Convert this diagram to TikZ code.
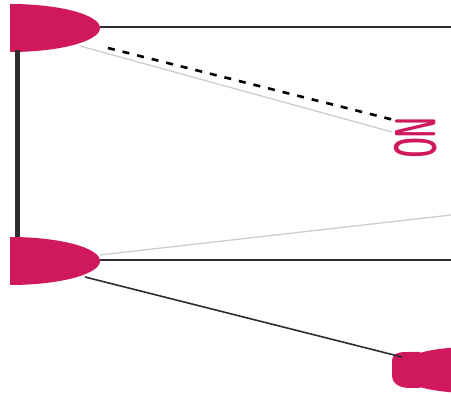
\documentclass[tikz,border=0pt]{standalone}
\usetikzlibrary{calc}
\definecolor{blobpink}{RGB}{208,24,92}
\definecolor{darkline}{RGB}{45,45,45}
\definecolor{lightline}{RGB}{205,205,205}
\begin{document}
\begin{tikzpicture}[x=1pt,y=-1pt,
  blob/.style={fill=blobpink,draw=none},
  darkedge/.style={draw=darkline,line width=2pt},
  lightedge/.style={draw=lightline,line width=1.3pt},
  dashededge/.style={draw=black,line width=2.6pt,dash pattern=on 7pt off 8pt}]
\useasboundingbox (0,0) rectangle (451,395);
\begin{scope}
\clip (10,0) rectangle (451,395);
% blobs
\fill[blob] (10,28) ellipse [x radius=90, y radius=24];
\fill[blob] (10,261) ellipse [x radius=90, y radius=24];
\fill[blob] (470,370) ellipse [x radius=75, y radius=23];
\fill[blob] (392,362) .. controls (392,352) and (400,352) .. (410,352) -- (420,352) -- (420,388) -- (410,388) .. controls (400,388) and (392,384) .. (392,375) -- cycle;
\node[text=blobpink,font=\sffamily\bfseries\fontsize{58}{58}\selectfont,rotate=-90,inner sep=0pt,anchor=base west] (N) at (395,117) {\scalebox{0.45}[1]{NO}};
\end{scope}
\coordinate (Atip) at (100,27);
\coordinate (Abot) at (17,50);
\coordinate (Adash) at (108,48);
\coordinate (Alight) at (80,46);
\coordinate (Btip) at (100,260);
\coordinate (Btop) at (17,237);
\coordinate (Blight) at (100,255);
\coordinate (Blow) at (85,277);
\coordinate (Cin) at (402,357);
\coordinate (Rtop) at (451,27);
\coordinate (Rmid) at (451,260);
\coordinate (Rlight) at (451,215);
\coordinate (Ndash) at (398,121);
\coordinate (Nlight) at (392,132);
\draw[darkedge] (Atip) -- (Rtop);
\draw[draw=darkline,line width=5pt] (Abot) -- (Btop);
\draw[lightedge] (Alight) -- (Nlight);
\draw[dashededge] (Adash) -- (Ndash);
\draw[darkedge,line width=2.4pt] (Btip) -- (Rmid);
\draw[lightedge] (Blight) -- (Rlight);
\draw[darkedge,line width=1.6pt] (Blow) -- (Cin);
\end{tikzpicture}
\end{document}
